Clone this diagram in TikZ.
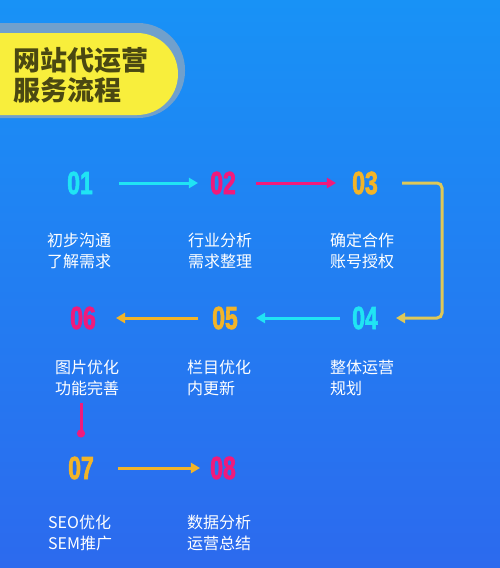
\documentclass[tikz,border=0pt]{standalone}
\usepackage{fontspec}
\usepackage{graphicx}
\usetikzlibrary{arrows.meta}
\setmainfont{Noto Sans CJK SC}
\newfontfamily\numfont{Liberation Sans}[BoldFeatures={FakeBold=2.5}]
\definecolor{bgtop}{RGB}{24,146,246}
\definecolor{bgbot}{RGB}{44,106,238}
\definecolor{qing}{RGB}{32,228,244}
\definecolor{hong}{RGB}{240,26,124}
\definecolor{jin}{RGB}{242,180,40}
\definecolor{tu}{RGB}{222,200,88}
\definecolor{huang}{RGB}{248,238,60}
\definecolor{mo}{RGB}{74,72,18}
\definecolor{waikuang}{RGB}{112,160,204}
\newcommand\shu[1]{\scalebox{0.72}[1]{#1}}
\tikzset{
  num/.style={inner sep=0pt, font=\numfont\bfseries\fontsize{32}{32}\selectfont},
  lab/.style={anchor=base west, align=left, inner sep=0pt, text=white,
    font=\fontsize{16}{21}\selectfont},
  liu/.style={line width=3pt, -{Triangle[length=9pt,width=10pt]}}
}

\begin{document}
\begin{tikzpicture}[x=1pt,y=-1pt]
        \useasboundingbox (0,0) rectangle (500,568);
        % 背景
        \shade[top color=bgtop, bottom color=bgbot] (0,0) rectangle (500,568);

        % 标题
        \fill[waikuang, rounded corners=47pt] (-60,23) rectangle (185,118);
        \fill[huang, rounded corners=41pt] (-60,33) rectangle (178,115);
        \node[anchor=base west, align=left, inner sep=0pt, text=mo,
          font=\bfseries\fontsize{27}{30}\selectfont] (biaoti) at (13,100) {网站代运营\\服务流程};

        % 步骤编号
        \node[num, text=qing] (n01) at (80,183) {\shu{01}};
        \node[num, text=hong] (n02) at (223,183) {\shu{02}};
        \node[num, text=jin]  (n03) at (365,183) {\shu{03}};
        \node[num, text=qing] (n04) at (365,318) {\shu{04}};
        \node[num, text=jin]  (n05) at (225,318) {\shu{05}};
        \node[num, text=hong] (n06) at (83,318) {\shu{06}};
        \node[num, text=jin]  (n07) at (81,468) {\shu{07}};
        \node[num, text=hong] (n08) at (223,468) {\shu{08}};

        % 步骤说明
        \node[lab] (l01) at (47,267) {初步沟通\\了解需求};
        \node[lab] (l02) at (188,267) {行业分析\\需求整理};
        \node[lab] (l03) at (330,267) {确定合作\\账号授权};
        \node[lab] (l04) at (330,394) {整体运营\\规划};
        \node[lab] (l05) at (187,394) {栏目优化\\内更新};
        \node[lab] (l06) at (55,394) {图片优化\\功能完善};
        \node[lab] (l07) at (48,549) {SEO优化\\SEM推广};
        \node[lab] (l08) at (187,549) {数据分析\\运营总结};

        % 连线
        \coordinate (guai) at (442,250);
        \draw[liu, qing, shorten <=26pt, shorten >=12pt] (n01) -- (n02);
        \draw[liu, hong, shorten <=20pt, shorten >=16pt] (n02) -- (n03);
        \draw[liu, tu, rounded corners=5pt, shorten <=24pt, shorten >=18pt] (n03) -| (guai) |- (n04);
        \draw[liu, qing, shorten <=12pt, shorten >=18pt] (n04) -- (n05);
        \draw[liu, jin, shorten <=14pt, shorten >=20pt] (n05) -- (n06);
        \draw[line width=3pt, hong, -{Circle[length=8pt]}, shorten <=7pt, shorten >=19pt] (l06.south -| n07) -- (n07);
        \draw[liu, jin, shorten <=24pt, shorten >=10pt] (n07) -- (n08);
\end{tikzpicture}
\end{document}
